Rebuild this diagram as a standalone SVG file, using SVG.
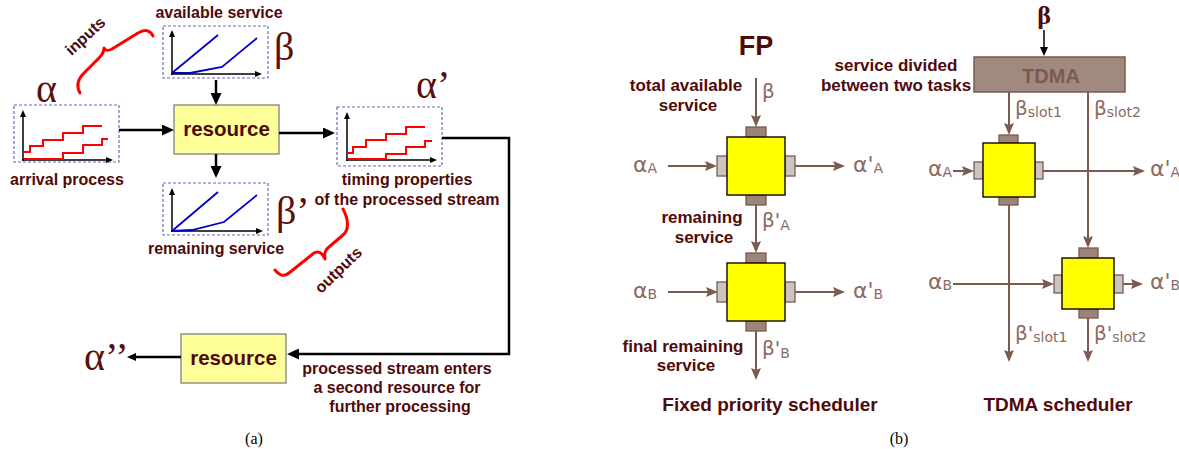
<svg xmlns="http://www.w3.org/2000/svg" width="1179" height="449" viewBox="0 0 1179 449">
<style>
.lbl{font-family:"Liberation Sans",Arial,sans-serif;font-weight:bold;font-size:16px;fill:#500a0a;text-anchor:middle}
.lblr{font-family:"Liberation Sans",Arial,sans-serif;font-weight:bold;font-size:17px;fill:#500a0a;text-anchor:middle}
.greek{font-family:"Liberation Serif","Times New Roman",serif;font-size:40px;fill:#5a0f0f}
.gl{font-family:"DejaVu Sans",sans-serif;font-size:22px;fill:#8d6a60}
.sub{font-size:14px}
.cap{font-family:"Liberation Serif","Times New Roman",serif;font-size:16px;fill:#000;text-anchor:middle}
.dash{fill:none;stroke:#6a6ab8;stroke-width:1.2;stroke-dasharray:3,2}
.axis{stroke:#000;stroke-width:1.5;marker-end:url(#sa)}
.blue{fill:none;stroke:#0000cc;stroke-width:1.8}
.red{fill:none;stroke:#ff0000;stroke-width:2}
.res{fill:#ffff99;stroke:#808080;stroke-width:1.3}
.restxt{font-family:"Liberation Sans",Arial,sans-serif;font-weight:bold;font-size:20.5px;fill:#500a0a;text-anchor:middle}
.blk{fill:none;stroke:#000;stroke-width:2.5}
.brn{fill:none;stroke:#7b5a4f;stroke-width:2}
.brace{fill:none;stroke:#ff0000;stroke-width:3;stroke-linecap:round;stroke-linejoin:round}
.tabd{fill:#9c8478;stroke:#7b5a4f;stroke-width:1.3}
.tabl{fill:#cdc4c0;stroke:#7b5a4f;stroke-width:1.3}
.sq{fill:#ffff00;stroke:#1e140c;stroke-width:1.5}
</style>
<defs>
<marker id="ab" viewBox="0 0 12 11" refX="6" refY="5.5" markerWidth="12" markerHeight="11" markerUnits="userSpaceOnUse" orient="auto"><path d="M0,0 L12,5.5 L0,11 z" fill="#000"/></marker>
<marker id="am" viewBox="0 0 9 8" refX="4.5" refY="4" markerWidth="9" markerHeight="8" markerUnits="userSpaceOnUse" orient="auto"><path d="M0,0 L9,4 L0,8 z" fill="#000"/></marker>
<marker id="sa" viewBox="0 0 7 6" refX="3.5" refY="3" markerWidth="7" markerHeight="6" markerUnits="userSpaceOnUse" orient="auto"><path d="M0,0 L7,3 L0,6 z" fill="#000"/></marker>
<marker id="bb" viewBox="0 0 12 10" refX="6" refY="5" markerWidth="12" markerHeight="10" markerUnits="userSpaceOnUse" orient="auto"><path d="M0,0 L12,5 L0,10 L2,5 z" fill="#7b5a4f"/></marker>
</defs>

<!-- LEFT (a) -->
<g id="beta-graph">
<text class="lbl" x="219" y="18">available service</text>
<rect class="dash" x="163" y="26" width="105" height="52"/>
<line class="axis" x1="172" y1="75" x2="172" y2="33.5"/>
<line class="axis" x1="171" y1="74" x2="258.5" y2="74"/>
<path class="blue" d="M172,73 L218,35 M172,73 L190,73 L222,67 L257,38"/>
<text class="greek" x="274" y="60">β</text>
</g>
<g id="inputs">
<path class="brace" d="M80,93 C76,86 78,79 84,73 L99,58 C103,54 104,52 104,48 C106,51 108,51 112,49 L138,33 C145,29 150,30 153,36"/>
<text class="lbl" transform="translate(89,40) rotate(-43)">inputs</text>
</g>
<g id="alpha-graph">
<text class="greek" x="36" y="102">α</text>
<rect class="dash" x="14" y="105" width="105" height="57"/>
<line class="axis" x1="23" y1="161" x2="23" y2="113.5"/>
<line class="axis" x1="22" y1="160" x2="109.5" y2="160"/>
<path class="red" d="M24,152 L30,152 L30,146 L43,146 L43,140 L63,140 L63,133 L83,133 L83,126 L102,126"/>
<path class="red" d="M24,159 L63,159 L63,153 L83,153 L83,145 L102,145 L102,139 L108,139"/>
<text class="lbl" x="67" y="185">arrival process</text>
</g>
<g id="resource1">
<rect class="res" x="174" y="105" width="105" height="49"/>
<text class="restxt" x="226.5" y="136">resource</text>
</g>
<g id="beta-prime-graph">
<rect class="dash" x="163" y="183" width="105" height="52"/>
<line class="axis" x1="172" y1="232" x2="172" y2="191.5"/>
<line class="axis" x1="171" y1="231" x2="259.5" y2="231"/>
<path class="blue" d="M172,231 L218,192 M172,231 L192,230 L224,222 L257,195"/>
<text class="greek" x="276" y="224">β’</text>
<text class="lbl" x="216" y="254">remaining service</text>
</g>
<g id="outputs">
<path class="brace" d="M275,270 C280,276 284,277 289,273 L314,253 C318,251 322,252 325,259 C324,253 325,250 329,247 L343,235 C349,230 349,220 343,209"/>
<text class="lbl" transform="translate(342,274) rotate(-44)">outputs</text>
</g>
<g id="alpha-prime-graph">
<text class="greek" x="416" y="98">α’</text>
<rect class="dash" x="337" y="107" width="105" height="59"/>
<line class="axis" x1="347" y1="161" x2="347" y2="115.5"/>
<line class="axis" x1="346" y1="160" x2="433.5" y2="160"/>
<path class="red" d="M347,153 L353,153 L353,147 L366,147 L366,140 L386,140 L386,134 L406,134 L406,127 L425,127"/>
<path class="red" d="M347,159 L386,159 L386,154 L406,154 L406,147 L425,147 L425,141 L432,141"/>
<text class="lbl" x="407" y="185">timing properties</text>
<text class="lbl" x="407" y="205">of the processed stream</text>
</g>
<g id="resource2">
<rect class="res" x="181" y="334" width="105" height="49"/>
<text class="restxt" x="233.5" y="365">resource</text>
</g>
<g id="alpha-dprime">
<text class="greek" x="84" y="370">α’’</text>
</g>
<g id="note2">
<text class="lbl" x="397" y="374">processed stream enters</text>
<text class="lbl" x="397" y="393">a second resource for</text>
<text class="lbl" x="400" y="412">further processing</text>
</g>
<text class="cap" x="254" y="444">(a)</text>

<g id="connectors-a">
<line class="blk" x1="119" y1="130" x2="168" y2="130" marker-end="url(#ab)"/>
<line class="blk" x1="216" y1="80" x2="216" y2="99" marker-end="url(#ab)"/>
<line class="blk" x1="216" y1="154" x2="216" y2="172" marker-end="url(#ab)"/>
<line class="blk" x1="279" y1="133" x2="329" y2="133" marker-end="url(#ab)"/>
<polyline class="blk" points="442,138 509,138 509,354 293,354" marker-end="url(#ab)"/>
<line class="blk" x1="181" y1="357" x2="131.5" y2="357" stroke-width="2" marker-end="url(#am)"/>
</g>

<!-- RIGHT (b) FP -->
<text class="lblr" x="756" y="55" style="font-size:27px">FP</text>
<text class="lblr" x="686" y="91">total available</text>
<text class="lblr" x="688" y="111">service</text>
<text class="lblr" x="702" y="223">remaining</text>
<text class="lblr" x="704" y="243">service</text>
<text class="lblr" x="683" y="352">final remaining</text>
<text class="lblr" x="686" y="371">service</text>
<text class="lblr" x="770" y="411" style="font-size:19px">Fixed priority scheduler</text>

<g id="fp-task-a">
<rect class="tabd" x="746" y="127" width="20" height="10"/>
<rect class="tabd" x="746" y="195" width="20" height="10"/>
<rect class="tabl" x="717" y="156" width="10" height="20"/>
<rect class="tabl" x="785" y="156" width="10" height="20"/>
<rect class="sq" x="727" y="137" width="58" height="58"/>
</g>
<g id="fp-task-b">
<rect class="tabd" x="746" y="253" width="20" height="10"/>
<rect class="tabd" x="746" y="321" width="20" height="10"/>
<rect class="tabl" x="717" y="282" width="10" height="20"/>
<rect class="tabl" x="785" y="282" width="10" height="20"/>
<rect class="sq" x="727" y="263" width="58" height="58"/>
</g>
<g id="fp-labels">
<text class="gl" x="762" y="98" style="font-size:20px">β</text>
<text class="gl" x="633" y="172">α<tspan class="sub" dy="1">A</tspan></text>
<text class="gl" x="853" y="172">α'<tspan class="sub" dy="1">A</tspan></text>
<text class="gl" x="762" y="227" style="font-size:20px">β'<tspan class="sub" dy="3">A</tspan></text>
<text class="gl" x="633" y="298">α<tspan class="sub" dy="1">B</tspan></text>
<text class="gl" x="853" y="298">α'<tspan class="sub" dy="1">B</tspan></text>
<text class="gl" x="762" y="355" style="font-size:20px">β'<tspan class="sub" dy="3">B</tspan></text>
</g>

<!-- RIGHT (b) TDMA -->
<text x="1044" y="24" style="font-family:'Liberation Serif',serif;font-weight:bold;font-size:26px;fill:#500a0a;text-anchor:middle">β</text>
<text class="lblr" x="896" y="71">service divided</text>
<text class="lblr" x="896" y="91">between two tasks</text>
<g id="tdma">
<rect x="974" y="57" width="151" height="35" fill="#a08a80" stroke="#7b5a4f" stroke-width="1.5"/>
<text x="1051" y="83" style="font-family:'Liberation Sans',Arial,sans-serif;font-weight:bold;font-size:20px;fill:#7b5a4f;text-anchor:middle">TDMA</text>
</g>
<g id="tdma-task-a">
<rect class="tabd" x="999" y="135" width="19" height="8"/>
<rect class="tabd" x="999" y="197" width="19" height="8"/>
<rect class="tabl" x="974" y="162" width="9" height="17"/>
<rect class="tabl" x="1035" y="162" width="8" height="17"/>
<rect class="sq" x="983" y="143" width="52" height="54"/>
</g>
<g id="tdma-task-b">
<rect class="tabd" x="1079" y="248" width="19" height="10"/>
<rect class="tabd" x="1079" y="309" width="19" height="9"/>
<rect class="tabl" x="1054" y="275" width="8" height="18"/>
<rect class="tabl" x="1114" y="275" width="9" height="18"/>
<rect class="sq" x="1062" y="258" width="52" height="51"/>
</g>
<g id="tdma-labels">
<text class="gl" x="1015" y="115" style="font-size:20px">β<tspan class="sub" dy="2">slot1</tspan></text>
<text class="gl" x="1094" y="115" style="font-size:20px">β<tspan class="sub" dy="2">slot2</tspan></text>
<text class="gl" x="928" y="176">α<tspan class="sub" dy="1">A</tspan></text>
<text class="gl" x="1150" y="176">α'<tspan class="sub" dy="1">A</tspan></text>
<text class="gl" x="928" y="289">α<tspan class="sub" dy="1">B</tspan></text>
<text class="gl" x="1150" y="289">α'<tspan class="sub" dy="1">B</tspan></text>
<text class="gl" x="1015" y="340" style="font-size:20px">β'<tspan class="sub" dy="2">slot1</tspan></text>
<text class="gl" x="1094" y="340" style="font-size:20px">β'<tspan class="sub" dy="2">slot2</tspan></text>
</g>
<text class="lblr" x="1058" y="411" style="font-size:19px">TDMA scheduler</text>
<text class="cap" x="899" y="444">(b)</text>

<g id="connectors-b">
<line class="brn" x1="756" y1="78" x2="756" y2="121" marker-end="url(#bb)"/>
<line class="brn" x1="668" y1="166" x2="711" y2="166" marker-end="url(#bb)"/>
<line class="brn" x1="795" y1="166" x2="839" y2="166" marker-end="url(#bb)"/>
<line class="brn" x1="756" y1="205" x2="756" y2="247" marker-end="url(#bb)"/>
<line class="brn" x1="668" y1="292" x2="712" y2="292" marker-end="url(#bb)"/>
<line class="brn" x1="795" y1="292" x2="839" y2="292" marker-end="url(#bb)"/>
<line class="brn" x1="756" y1="331" x2="756" y2="374" marker-end="url(#bb)"/>
<line x1="1044" y1="30" x2="1044" y2="51.5" stroke="#000" stroke-width="1.5" marker-end="url(#am)"/>
<line class="brn" x1="1009" y1="92" x2="1009" y2="129" marker-end="url(#bb)"/>
<line class="brn" x1="1088" y1="92" x2="1088" y2="242" marker-end="url(#bb)"/>
<line class="brn" x1="953" y1="171" x2="968" y2="171" marker-end="url(#bb)"/>
<line class="brn" x1="1043" y1="171" x2="1139" y2="171" marker-end="url(#bb)"/>
<line class="brn" x1="953" y1="284" x2="1048" y2="284" marker-end="url(#bb)"/>
<line class="brn" x1="1123" y1="284" x2="1137" y2="284" marker-end="url(#bb)"/>
<line class="brn" x1="1009" y1="205" x2="1009" y2="356" marker-end="url(#bb)"/>
<line class="brn" x1="1088" y1="318" x2="1088" y2="356" marker-end="url(#bb)"/>
</g>
</svg>
